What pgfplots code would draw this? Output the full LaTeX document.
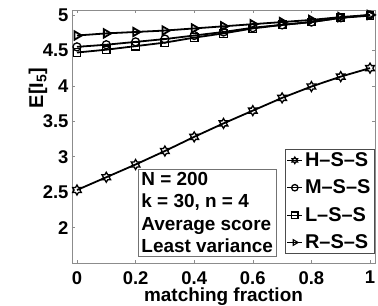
\documentclass[border=0pt]{standalone}
\usepackage{fontspec}
\setmainfont{Liberation Sans}
\usepackage{pgfplots}
\pgfplotsset{compat=1.18}
\pgfdeclareplotmark{hexagram}{%
  \pgfpathmoveto{\pgfpointpolar{90}{\pgfplotmarksize}}%
  \pgfpathlineto{\pgfpointpolar{120}{0.577\pgfplotmarksize}}%
  \pgfpathlineto{\pgfpointpolar{150}{\pgfplotmarksize}}%
  \pgfpathlineto{\pgfpointpolar{180}{0.577\pgfplotmarksize}}%
  \pgfpathlineto{\pgfpointpolar{210}{\pgfplotmarksize}}%
  \pgfpathlineto{\pgfpointpolar{240}{0.577\pgfplotmarksize}}%
  \pgfpathlineto{\pgfpointpolar{270}{\pgfplotmarksize}}%
  \pgfpathlineto{\pgfpointpolar{300}{0.577\pgfplotmarksize}}%
  \pgfpathlineto{\pgfpointpolar{330}{\pgfplotmarksize}}%
  \pgfpathlineto{\pgfpointpolar{0}{0.577\pgfplotmarksize}}%
  \pgfpathlineto{\pgfpointpolar{30}{\pgfplotmarksize}}%
  \pgfpathlineto{\pgfpointpolar{60}{0.577\pgfplotmarksize}}%
  \pgfpathclose
  \pgfusepathqstroke
}
\pgfplotstableread{
x H M L R
0.0 2.53 4.55 4.47 4.71
0.1 2.71 4.58 4.51 4.74
0.2 2.89 4.62 4.56 4.76
0.3 3.08 4.66 4.61 4.78
0.4 3.28 4.71 4.68 4.81
0.5 3.47 4.76 4.74 4.84
0.6 3.65 4.82 4.81 4.87
0.7 3.83 4.86 4.86 4.90
0.8 3.99 4.90 4.90 4.93
0.9 4.13 4.96 4.96 4.97
1.0 4.25 5.00 4.99 5.00
}\data
\begin{document}
\begin{tikzpicture}
\path[use as bounding box] (-72bp,-43bp) rectangle (306bp,263bp);
\begin{axis}[
  scale only axis,
  width=303bp, height=253bp,
  at={(0,0)}, anchor=south west,
  xmin=-0.017, xmax=1.017,
  ymin=1.5, ymax=5.07,
  xtick={0,0.2,0.4,0.6,0.8,1},
  xticklabels={0,0.2,0.4,0.6,0.8,1},
  ytick={2,2.5,3,3.5,4,4.5,5},
  yticklabels={2,2.5,3,3.5,4,4.5,5},
  tick align=inside,
  major tick length=3bp,
  axis line style={black!45, line width=0.8bp},
  tick style={black!45, line width=0.6bp},
  ticklabel style={font=\fontsize{18.5}{18.5}\selectfont\bfseries},
  xticklabel style={inner sep=0pt, yshift=-8bp},
  xlabel={matching fraction},
  ylabel={E[I\textsubscript{5}]},
  label style={font=\fontsize{19}{19}\selectfont\bfseries, inner sep=0pt},
  xlabel style={at={(axis description cs:0.5,0)}, anchor=base, yshift=-38.5bp},
  ylabel style={at={(axis description cs:-0.112,0.692)}, anchor=center, font=\fontsize{20}{20}\selectfont\bfseries},
  legend style={at={(axis description cs:0.997,0.036)}, anchor=south east,
    draw=black!70, fill=white, font=\fontsize{20}{20}\selectfont\bfseries,
    inner sep=1.5bp, row sep=8bp, column sep=0bp, cells={anchor=west}},
  legend image code/.code={\draw[mark repeat=2,mark phase=2] plot coordinates {(0cm,0cm) (0.27cm,0cm) (0.54cm,0cm)};},
  legend image post style={mark size=3.2bp, line width=1.2bp},
  every axis plot/.append style={black, line width=1.8bp, mark options={solid, line width=1.3bp}},
]
\addplot[mark=hexagram, mark size=5bp] table[x=x, y=H] {\data};
\addplot[mark=o, mark size=4bp] table[x=x, y=M] {\data};
\addplot[mark=square, mark size=3.8bp] table[x=x, y=L] {\data};
\addplot[mark=triangle, mark size=4.8bp, mark options={rotate=-90}] table[x=x, y=R] {\data};
\legend{H--S--S, M--S--S, L--S--S, R--S--S}
\node[draw=black!55, fill=white, align=left, anchor=north west, inner sep=3.2bp,
  font=\fontsize{19}{22.5}\selectfont\bfseries] at (axis description cs:0.218,0.372)
  {N = 200\\k = 30, n = 4\\Average score\\Least variance};
\end{axis}
\end{tikzpicture}
\end{document}
